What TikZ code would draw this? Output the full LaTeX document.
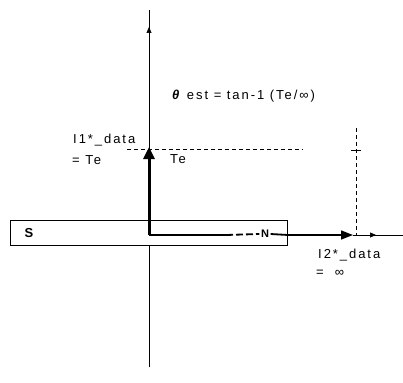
\documentclass[tikz,border=0pt]{standalone}
\usepackage{fontspec}
\setmainfont{Liberation Sans}[LetterSpace=15]
\usetikzlibrary{arrows.meta}
\tikzset{
  lbl/.style={inner sep=0pt, anchor=west},
  thinaxis/.style={line width=0.7pt},
  guide/.style={line width=0.7pt, dash pattern=on 4pt off 3pt},
}
\begin{document}
\begin{tikzpicture}[x=1pt,y=-1pt,font=\fontsize{13}{15}\selectfont]
\useasboundingbox (0,0) rectangle (403,382);
% coordinates
\coordinate (O) at (149,235);
\coordinate (vtop) at (149,10);
\coordinate (vmid) at (149,27);
\coordinate (vbot) at (149,367);
\coordinate (Tetop) at (149,147);
\coordinate (Ninf) at (353,235);
\coordinate (hsmall) at (376,235);
\coordinate (hend) at (403,235);
\coordinate (dhl) at (127,149);
\coordinate (dhr) at (303,149);
\coordinate (dvt) at (356,128);
\coordinate (dvb) at (356,235);
\coordinate (tickl) at (351,150);
\coordinate (tickr) at (361,150);
\coordinate (dashstart) at (226,235);
% vertical axis
\draw[thinaxis] (vbot) -- (vtop);
\draw[thinaxis,-{Triangle[length=6pt,width=5pt]}] (vbot) -- (vmid);
% magnet box
\node[draw, line width=0.9pt, fill=white, minimum width=277pt, minimum height=25pt, inner sep=0pt, anchor=north west] (magnet) at (10,220) {};
\node[font=\fontsize{13}{15}\selectfont\bfseries] (S) at (29,233) {S};
\node[font=\fontsize{11}{13}\selectfont\bfseries, inner sep=1.5pt] (N) at (265,234) {N};
% guide dashed lines
\draw[guide] (dhl) -- (dhr);
\draw[guide] (dvt) -- (dvb);
\draw[thinaxis] (tickl) -- (tickr);
% horizontal axis right part
\draw[thinaxis] (Ninf) -- (hend);
\draw[thinaxis,-{Triangle[length=6pt,width=5pt]}] (Ninf) -- (hsmall);
% N vector
\draw[line width=1.8pt] (O) -- (dashstart);
\draw[line width=1.8pt, dash pattern=on 7pt off 3pt] (dashstart) -- (N.west);
\draw[line width=1.8pt] (N.east) -- (magnet.east |- O);
\draw[line width=1.5pt, -{Triangle[length=12pt,width=9pt]}] (magnet.east |- O) -- (Ninf);
% Te vector
\draw[line width=3pt, -{Triangle[length=12pt,width=11pt]}] (O) -- (Tetop);
% labels
\node[lbl] (theta) at (172,96) {\textit{\textbf{θ}} est = tan-1 (Te/∞)};
\node[lbl] (i1) at (73,140) {I1*\_data};
\node[lbl] (i1v) at (72,160) {= Te};
\node[lbl] (te) at (170,159) {Te};
\node[lbl] (i2) at (318,255) {I2*\_data};
\node[lbl] (i2v) at (316,273) {=\ \ ∞};
\end{tikzpicture}
\end{document}
